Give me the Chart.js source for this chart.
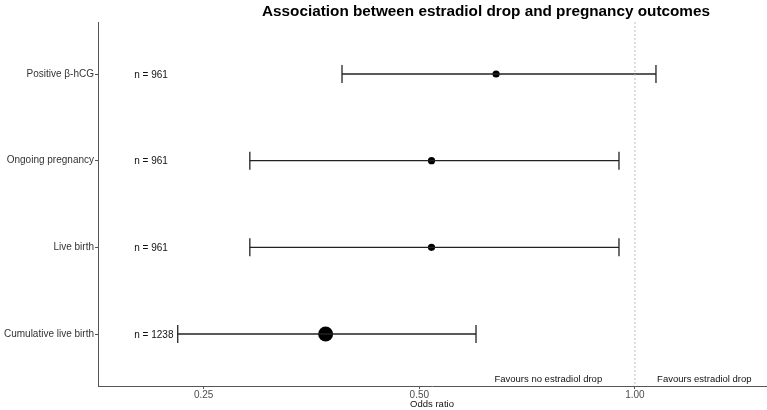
<!DOCTYPE html>
<html>
<head>
<meta charset="utf-8">
<script src="https://cdn.jsdelivr.net/npm/chart.js@4.4.1/dist/chart.umd.min.js"></script>
<style>
  html, body { margin: 0; padding: 0; background: #fff; }
  #wrap { width: 767px; height: 410px; position: relative; }
</style>
</head>
<body>
<div id="wrap"><canvas id="c" width="767" height="410"></canvas></div>
<script>
// ---- data ----
const categories = ['Positive β-hCG', 'Ongoing pregnancy', 'Live birth', 'Cumulative live birth'];
const oddsRatio = [0.64, 0.52, 0.52, 0.37];
const ciLower = [0.39, 0.29, 0.29, 0.23];
const ciUpper = [1.07, 0.95, 0.95, 0.60];
const sampleSize = [961, 961, 961, 1238];
const xTickValues = [0.25, 0.5, 1.0];
const xTickLabels = ['0.25', '0.50', '1.00'];
const nLabelX = 0.2;
const favourLabels = ['Favours no estradiol drop', 'Favours estradiol drop'];
const favourX = [0.757, 1.25];
const favourRow = 4.52;
const referenceOR = 1;
const titleText = 'Association between estradiol drop and pregnancy outcomes';
const xTitle = 'Odds ratio';

const FONT = "'Liberation Sans', Arial, sans-serif";
const rows = categories.map((_, i) => i + 1);

const datasets = [];
// reference line
datasets.push({
  type: 'line',
  data: [{x: referenceOR, y: 0.4}, {x: referenceOR, y: 4.6}],
  borderColor: '#bdbdbd',
  borderWidth: 1,
  borderDash: [2, 2],
  pointRadius: 0,
  fill: false
});
// CI bars with caps
rows.forEach((r, i) => {
  datasets.push({
    type: 'line',
    data: [{x: ciLower[i], y: r}, {x: ciUpper[i], y: r}],
    borderColor: '#222',
    borderWidth: 1.3,
    pointStyle: 'line',
    rotation: 90,
    pointRadius: 9,
    pointBorderWidth: 1.3,
    pointBorderColor: '#222',
    pointHoverRadius: 9,
    fill: false
  });
});
// point estimates
datasets.push({
  type: 'scatter',
  data: rows.map((r, i) => ({x: oddsRatio[i], y: r})),
  backgroundColor: '#000',
  borderColor: '#000',
  borderWidth: 0,
  pointRadius: ctx => (sampleSize[ctx.dataIndex] > 1000 ? 7.5 : 3.6),
  pointHoverRadius: ctx => (sampleSize[ctx.dataIndex] > 1000 ? 7.5 : 3.6)
});

const textPlugin = {
  id: 'texts',
  afterDatasetsDraw(chart) {
    const {ctx, scales: {x, y}} = chart;
    ctx.save();
    ctx.fillStyle = '#111';
    ctx.font = `10px ${FONT}`;
    ctx.textBaseline = 'middle';
    ctx.textAlign = 'left';
    rows.forEach((r, i) => {
      ctx.fillText('n = ' + sampleSize[i], x.getPixelForValue(nLabelX), y.getPixelForValue(r) + 1);
    });
    ctx.textAlign = 'center';
    ctx.font = `9.5px ${FONT}`;
    favourLabels.forEach((t, i) => {
      ctx.fillText(t, x.getPixelForValue(favourX[i]), y.getPixelForValue(favourRow));
    });
    // title
    ctx.font = `bold 15.3px ${FONT}`;
    ctx.fillStyle = '#000';
    ctx.fillText(titleText, 486, 12);
    ctx.restore();
  }
};

new Chart(document.getElementById('c'), {
  type: 'scatter',
  data: { datasets },
  plugins: [textPlugin],
  options: {
    responsive: false,
    animation: false,
    events: [],
    layout: { autoPadding: false, padding: { top: 22, right: 1, left: 0, bottom: 0 } },
    plugins: { legend: { display: false }, tooltip: { enabled: false }, title: { display: false } },
    scales: {
      x: {
        type: 'logarithmic',
        min: 0.178,
        max: 1.524,
        afterBuildTicks: s => { s.ticks = xTickValues.map(v => ({value: v})); },
        afterFit: s => { s.height = 24; s.paddingLeft = 0; s.paddingRight = 0; },
        ticks: {
          callback: (v) => { const k = xTickValues.indexOf(v); return k >= 0 ? xTickLabels[k] : ''; },
          color: '#4d4d4d',
          font: { family: FONT, size: 10 },
          padding: 0,
          maxRotation: 0,
          autoSkip: false
        },
        grid: { display: true, drawOnChartArea: false, drawTicks: true, tickLength: 3, color: '#555', lineWidth: 1 },
        border: { display: true, color: '#555', width: 1 },
        title: { display: true, text: xTitle, color: '#111', font: { family: FONT, size: 9.5 }, padding: { top: 0, bottom: 0 } }
      },
      y: {
        type: 'linear',
        reverse: true,
        min: 0.4,
        max: 4.6,
        afterBuildTicks: s => { s.ticks = rows.map(v => ({value: v})); },
        afterFit: s => { s.width = 98; s.paddingTop = 0; s.paddingBottom = 0; },
        ticks: {
          callback: (v) => categories[v - 1] || '',
          color: '#333',
          font: { family: FONT, size: 10 },
          padding: 1,
          autoSkip: false
        },
        grid: { display: true, drawOnChartArea: false, drawTicks: true, tickLength: 3, color: '#555', lineWidth: 1 },
        border: { display: true, color: '#555', width: 1 }
      }
    }
  }
});
</script>
</body>
</html>
